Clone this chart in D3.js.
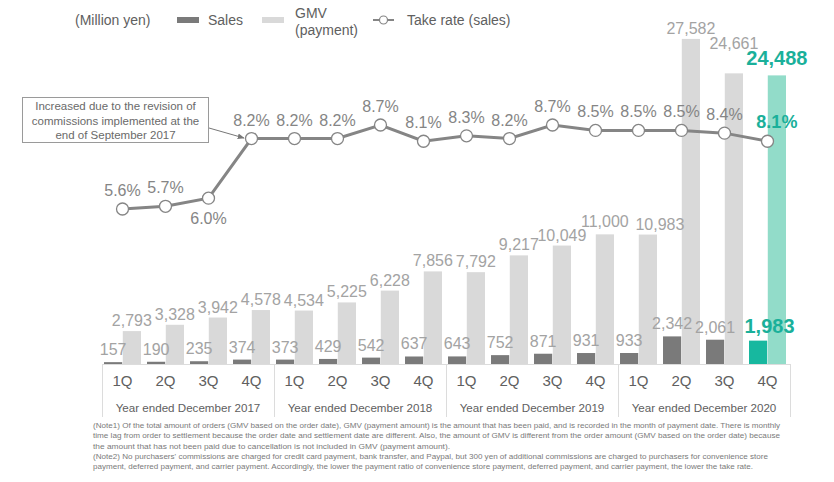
<!DOCTYPE html>
<html><head><meta charset="utf-8">
<script src="https://cdn.jsdelivr.net/npm/d3@7"></script>
<style>
html,body{margin:0;padding:0;background:#fff;}
svg{display:block;font-family:Arial,"Liberation Sans",sans-serif;}
</style></head>
<body><svg id="c" width="834" height="482"></svg>
<script>
const quarters = ["1Q","2Q","3Q","4Q","1Q","2Q","3Q","4Q","1Q","2Q","3Q","4Q","1Q","2Q","3Q","4Q"];
const years = ["Year ended December 2017","Year ended December 2018","Year ended December 2019","Year ended December 2020"];
const sales = [157,190,235,374,373,429,542,637,643,752,871,931,933,2342,2061,1983];
const gmv = [2793,3328,3942,4578,4534,5225,6228,7856,7792,9217,10049,11000,10983,27582,24661,24488];
const takeRate = [5.6,5.7,6.0,8.2,8.2,8.2,8.7,8.1,8.3,8.2,8.7,8.5,8.5,8.5,8.4,8.1];
const legendLabels = ["(Million yen)","Sales","GMV","(payment)","Take rate (sales)"];
const annotation = ["Increased due to the revision of","commissions implemented at the","end of September 2017"];
const notes = [
 "(Note1) Of the total amount of orders (GMV based on the order date), GMV (payment amount) is the amount that has been paid, and is recorded in the month of payment date. There is monthly",
 "time lag from order to settlement because the order date and settlement date are different. Also, the amount of GMV is different from the order amount (GMV based on the order date) because",
 "the amount that has not been paid due to cancellation is not included in GMV (payment amount).",
 "(Note2) No purchasers' commissions are charged for credit card payment, bank transfer, and Paypal, but 300 yen of additional commissions are charged to purchasers for convenience store",
 "payment, deferred payment, and carrier payment. Accordingly, the lower the payment ratio of convenience store payment, deferred payment, and carrier payment, the lower the take rate."
];

const svg = d3.select("#c");
const idx = d3.range(quarters.length);
const last = quarters.length - 1;
const C = {dark:"#7a7a7a", light:"#d9d9d9", teal:"#17b89f", tealLight:"#92dcc9", tealText:"#1ab09a",
  val:"#a3a3a3", rate:"#858585", axis:"#606060", frame:"#dcdcdc"};

const x = d3.scaleBand().domain(idx).range([101,789]).paddingInner(0.14).paddingOuter(0.07);
const xs = d3.scaleBand().domain(["s","g"]).range([0, x.bandwidth()]).paddingInner(0.03);
const y = d3.scaleLinear().domain([0,28000]).range([364,34]);
const yr = d3.scaleLinear().domain([5.6,8.7]).range([209,125]);
const cx = i => x(i) + x.bandwidth()/2;

// frame for category axis
const fx0 = 102, fx1 = 790;
const edges = d3.range(5).map(k => fx0 + k*(fx1-fx0)/4);
svg.append("line").attr("x1",fx0).attr("x2",fx1).attr("y1",364.5).attr("y2",364.5).attr("stroke",C.frame).attr("stroke-width",1);
edges.forEach(ex => svg.append("line").attr("x1",ex+0.5).attr("x2",ex+0.5).attr("y1",364).attr("y2",417).attr("stroke",C.frame).attr("stroke-width",1));

// bars
svg.selectAll("rect.s").data(idx).join("rect").attr("class","s")
  .attr("x", i => x(i)+xs("s")).attr("width", xs.bandwidth())
  .attr("y", i => y(sales[i])).attr("height", i => y(0)-y(sales[i]))
  .attr("fill", i => i===last ? C.teal : C.dark);
svg.selectAll("rect.g").data(idx).join("rect").attr("class","g")
  .attr("x", i => x(i)+xs("g")).attr("width", xs.bandwidth())
  .attr("y", i => y(gmv[i])).attr("height", i => y(0)-y(gmv[i]))
  .attr("fill", i => i===last ? C.tealLight : C.light);

// bar labels
const fmt = d3.format(",");
const gmvNudge = {11:[0,-2], 12:[12,0], 14:[0,-19]};
svg.selectAll("text.sl").data(idx).join("text").attr("class","sl")
  .attr("x", i => i===last ? cx(i)+2 : x(i)+xs("s")+xs.bandwidth()/2)
  .attr("y", i => y(sales[i]) - (i===last ? 8 : 7))
  .attr("text-anchor","middle")
  .attr("font-size", i => i===last ? 20 : 16)
  .attr("font-weight", i => i===last ? "bold" : "normal")
  .attr("fill", i => i===last ? C.tealText : C.val)
  .text(i => fmt(sales[i]));
svg.selectAll("text.gl").data(idx).join("text").attr("class","gl")
  .attr("x", i => x(i)+xs("g")+xs.bandwidth()/2 + (gmvNudge[i] ? gmvNudge[i][0] : 0))
  .attr("y", i => y(gmv[i]) - (i===last ? 10 : 5) + (gmvNudge[i] ? gmvNudge[i][1] : 0))
  .attr("text-anchor","middle")
  .attr("font-size", i => i===last ? 20 : 16)
  .attr("font-weight", i => i===last ? "bold" : "normal")
  .attr("fill", i => i===last ? C.tealText : C.val)
  .text(i => fmt(gmv[i]));

// take rate line
const line = d3.line().x(i => cx(i)).y(i => yr(takeRate[i]));
svg.append("path").datum(idx).attr("d", line).attr("fill","none").attr("stroke",C.rate).attr("stroke-width",3);
svg.selectAll("circle.p").data(idx).join("circle").attr("class","p")
  .attr("cx", cx).attr("cy", i => yr(takeRate[i])).attr("r",6)
  .attr("fill","#fff").attr("stroke",C.rate).attr("stroke-width",1.3);
svg.selectAll("text.rl").data(idx).join("text").attr("class","rl")
  .attr("x", i => i===last ? x(i)+xs("g")+xs.bandwidth()/2 : cx(i))
  .attr("y", i => i===2 ? yr(takeRate[i]) + 26 : yr(takeRate[i]) - 13)
  .attr("text-anchor","middle")
  .attr("font-size", i => i===last ? 18 : 16)
  .attr("font-weight", i => i===last ? "bold" : "normal")
  .attr("fill", i => i===last ? C.tealText : C.rate)
  .text(i => takeRate[i].toFixed(1) + "%");

// category axis labels
svg.selectAll("text.q").data(idx).join("text").attr("class","q")
  .attr("x", cx).attr("y", 385.5).attr("text-anchor","middle")
  .attr("font-size",15).attr("fill",C.axis).text(i => quarters[i]);
svg.selectAll("text.yr").data(years).join("text").attr("class","yr")
  .attr("x", (d,k) => (edges[k]+edges[k+1])/2).attr("y", 411.5).attr("text-anchor","middle")
  .attr("font-size",11.6).attr("fill",C.axis).text(d => d);

// legend
const lg = svg.append("g").attr("font-size",14).attr("fill",C.axis);
lg.append("text").attr("x",75).attr("y",25).text(legendLabels[0]);
lg.append("rect").attr("x",177).attr("y",17).attr("width",22).attr("height",6).attr("fill",C.dark);
lg.append("text").attr("x",208).attr("y",25).text(legendLabels[1]);
lg.append("rect").attr("x",262).attr("y",17).attr("width",22).attr("height",6).attr("fill",C.light);
lg.append("text").attr("x",295).attr("y",18).text(legendLabels[2]);
lg.append("text").attr("x",295).attr("y",35).text(legendLabels[3]);
lg.append("line").attr("x1",373).attr("x2",394).attr("y1",20).attr("y2",20).attr("stroke",C.rate).attr("stroke-width",2);
lg.append("circle").attr("cx",383.5).attr("cy",20).attr("r",4).attr("fill","#fff").attr("stroke",C.rate).attr("stroke-width",1.2);
lg.append("text").attr("x",407).attr("y",25).text(legendLabels[4]);

// annotation
const defs = svg.append("defs");
defs.append("marker").attr("id","ah").attr("viewBox","0 0 10 10").attr("refX",9).attr("refY",5)
  .attr("markerWidth",7).attr("markerHeight",7).attr("orient","auto")
  .append("path").attr("d","M0,1 L10,5 L0,9 z").attr("fill","#777");
svg.append("rect").attr("x",22.5).attr("y",97.5).attr("width",186).attr("height",45)
  .attr("fill","#fff").attr("stroke","#9a9a9a").attr("stroke-width",1);
svg.selectAll("text.an").data(annotation).join("text").attr("class","an")
  .attr("x",115.5).attr("y",(d,k)=>110+k*14.5).attr("text-anchor","middle")
  .attr("font-size",11.5).attr("fill","#6a6a6a").text(d=>d);
svg.append("line").attr("x1",209).attr("y1",128).attr("x2",244).attr("y2",138)
  .attr("stroke","#777").attr("stroke-width",1).attr("marker-end","url(#ah)");

// notes
const noteW = [687,687,357,675,660];
svg.selectAll("text.nt").data(notes).join("text").attr("class","nt")
  .attr("x",93).attr("y",(d,k)=>428+k*10.3)
  .attr("font-size",8).attr("font-family","'Liberation Sans Narrow','Arial Narrow',Arial,sans-serif")
  .attr("fill","#7a7a7a")
  .attr("textLength",(d,k)=>noteW[k]).attr("lengthAdjust","spacingAndGlyphs")
  .text(d=>d);
</script></body></html>
